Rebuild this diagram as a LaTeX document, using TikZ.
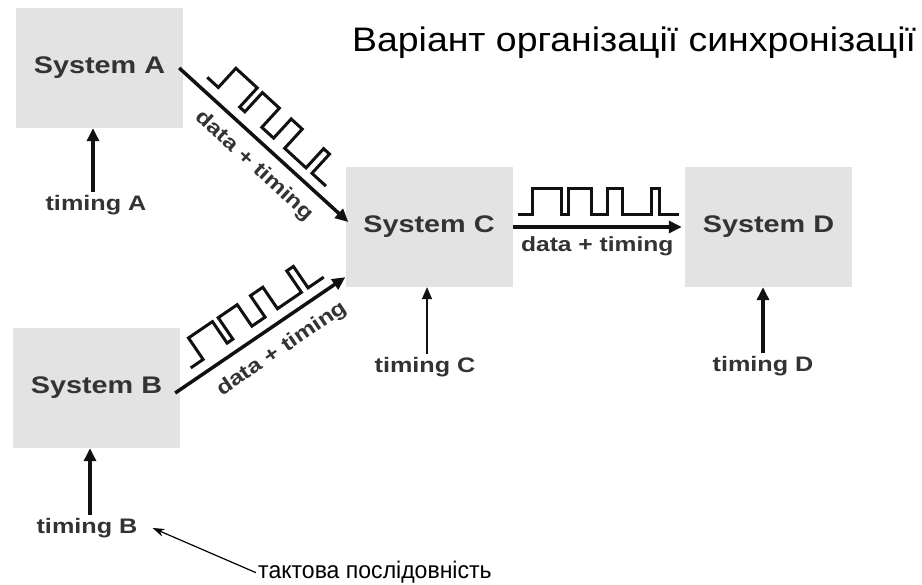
\documentclass[tikz,border=0pt]{standalone}
\usepackage{fontspec}
\setmainfont{Liberation Sans}
\usepackage{graphicx}
\usetikzlibrary{arrows.meta,calc}

\definecolor{boxgray}{HTML}{E3E3E3}
\definecolor{inkdark}{HTML}{333333}
\definecolor{inkblack}{HTML}{111111}

% bold sans label, slightly widened
\newcommand\widetext[2]{\scalebox{1.2}[1]{\fontsize{#1}{#1}\selectfont\bfseries #2}}

\tikzset{
  sysbox/.style={fill=boxgray, minimum width=167pt, minimum height=120pt,
    inner sep=0pt, text=inkdark},
  tlabel/.style={text=inkdark, inner sep=3pt},
  flowlabel/.style={text=inkdark, inner sep=0pt},
  dataflow/.style={line width=3.5pt, draw=inkblack,
    -{Triangle[length=13pt,width=12pt]}},
  clockin/.style={line width=3.5pt, draw=inkblack,
    -{Triangle[length=13pt,width=12pt]}},
  thinclock/.style={line width=1.5pt, draw=inkblack,
    -{Triangle[length=12pt,width=10pt]}},
  pointer/.style={line width=1.2pt, draw=black,
    -{Stealth[length=12pt,width=8pt]}},
  wave/.style={line width=3pt, draw=inkblack, line join=miter},
  pics/clockwave/.style={code={
    \draw[wave] (5,12) -- (20,12) -- (20,38) -- (49,38) -- (49,12)
      -- (56,12) -- (56,38) -- (79,38) -- (79,12) -- (95,12) -- (95,38)
      -- (110,38) -- (110,12) -- (139,12) -- (139,38) -- (147,38)
      -- (147,12) -- (166,12);
  }}
}

\begin{document}
\begin{tikzpicture}[x=1pt,y=1pt]
\useasboundingbox (0,0) rectangle (922,585);

% title
\node (title) [anchor=base west, inner sep=0pt] at (352,533)
  {\scalebox{1.1}[1]{\fontsize{34}{34}\selectfont Варіант організації синхронізації}};

% the four systems
\node[sysbox] (A) at (99.5,517) {\widetext{24}{System A}};
\node[sysbox] (B) at (96.5,197) {\widetext{24}{System B}};
\node[sysbox] (C) at (429,358)  {\widetext{24}{System C}};
\node[sysbox] (D) at (768.5,358) {\widetext{24}{System D}};

% local clock inputs
\node[tlabel] (tA) at (96,380) {\widetext{21}{timing A}};
\node[tlabel] (tB) at (87,57)  {\widetext{21}{timing B}};
\node[tlabel] (tC) at (425,218) {\widetext{21}{timing C}};
\node[tlabel] (tD) at (763,219) {\widetext{21}{timing D}};

\draw[clockin]   ([xshift=-3pt]tA.north) -- ([xshift=-3pt]tA.north |- A.south);
\draw[clockin]   ([xshift=3pt]tB.north)  -- ([xshift=3pt]tB.north |- B.south);
\draw[thinclock] ([xshift=2pt]tC.north)  -- ([xshift=2pt]tC.north |- C.south);
\draw[clockin]   (tD.north) -- (tD.north |- D.south);

% data + timing links
\coordinate (acS) at ([xshift=-4pt]A.east);
\coordinate (acE) at ([shift={(3pt,5pt)}]C.west);
\coordinate (bcS) at ([shift={(-5pt,-5pt)}]B.east);
\coordinate (bcE) at ([yshift=10pt]C.south west);
\coordinate (cdS) at (C.east);
\coordinate (cdE) at ([xshift=-3pt]D.west);

\draw[dataflow] (acS) -- (acE);
\draw[dataflow] (bcS) -- (bcE);
\draw[dataflow] (cdS) -- (cdE);

% labels under the links
\coordinate (acM) at ($(acS)!0.53!(acE)$);
\coordinate (bcM) at ($(bcS)!0.55!(bcE)$);
\node[flowlabel, rotate=-42.5] (lac) at ($(acM)!22pt!-90:(acE)$)
  {\widetext{20.5}{data + timing}};
\node[flowlabel, rotate=34.3] (lbc) at ($(bcM)!24pt!-90:(bcE)$)
  {\widetext{20.5}{data + timing}};
\node[flowlabel, anchor=north] (lcd) at ([yshift=-9pt]$(cdS)!0.5!(cdE)$)
  {\widetext{20.5}{data + timing}};

% clock waveforms riding on the links
\pic[rotate=-42.5] at ($(acS)!22pt!(acE)$) {clockwave};
\pic[rotate=34.3]  at ($(bcS)!22pt!(bcE)$) {clockwave};
\pic at (cdS) {clockwave};

% caption with pointer
\node (tact) [anchor=base west, inner sep=0pt] at (258,6)
  {\scalebox{0.96}[1]{\fontsize{24}{24}\selectfont тактова послідовність}};
\draw[pointer] ([xshift=-2pt]tact.west) -- ([xshift=12pt]tB.east);
\end{tikzpicture}
\end{document}
